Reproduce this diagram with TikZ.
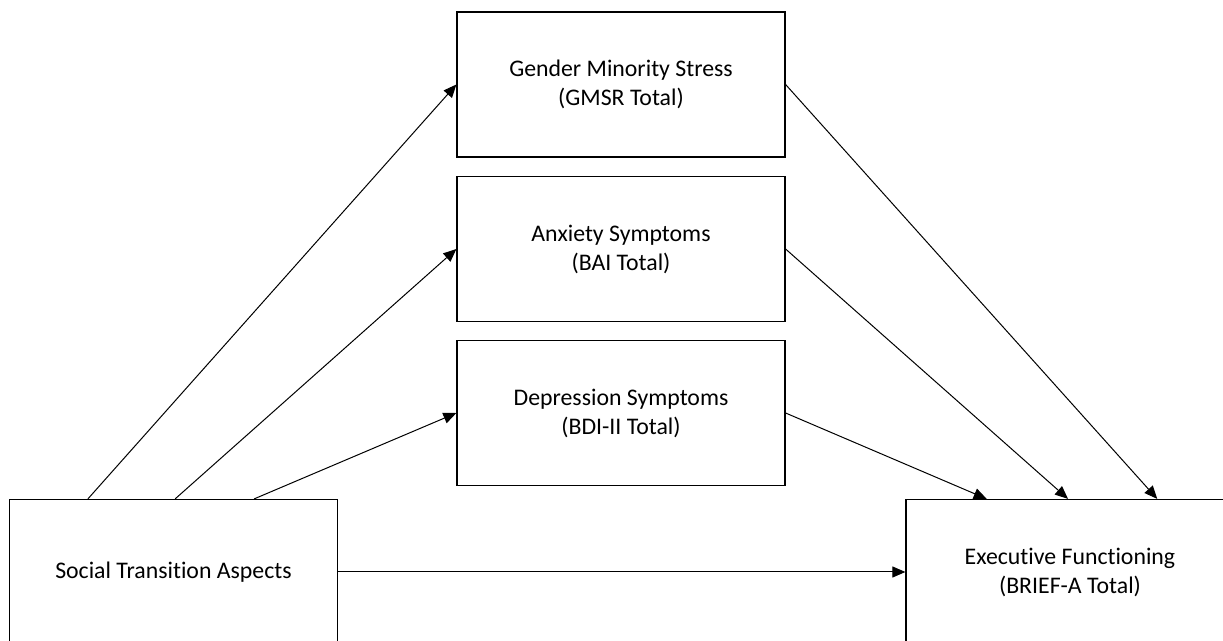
\documentclass[tikz,border=0pt]{standalone}
\usepackage{fontspec}
\setmainfont{Carlito}[Ligatures=NoCommon]
\usepackage{tikz}
\usetikzlibrary{arrows.meta, positioning, calc}

\begin{document}
\begin{tikzpicture}[
  x=0.5pt, y=-0.5pt,
  vbox/.style={draw, line width=0.6pt, minimum width=164pt, minimum height=72.5pt, align=center, font=\fontsize{11.9}{14.5}\selectfont, inner sep=0pt},
  path/.style={-{Triangle[length=6.5pt, width=5.5pt]}, line width=0.5pt}
]
  \useasboundingbox (0, 0) rectangle (1223, 641);
  \clip (0, 0) rectangle (1223, 641);
  \fill[white] (0, 0) rectangle (1223, 641);
  % mediators
  \node[vbox] (gmsr) at (621, 84.5) {Gender Minority Stress\\(GMSR Total)};
  \node[vbox] (bai) at (621, 249) {Anxiety Symptoms\\(BAI Total)};
  \node[vbox] (bdi) at (621, 413) {Depression Symptoms\\(BDI-II Total)};
  % predictor and outcome
  \node[vbox] (social) at (173.5, 572) {Social Transition Aspects};
  \node[vbox] (exec) at (1070, 572) {Executive Functioning\\(BRIEF-A Total)};
  % paths a
  \draw[path] ($(social.north west)!0.24!(social.north east)$) -- (gmsr.west);
  \draw[path] ($(social.north west)!0.505!(social.north east)$) -- (bai.west);
  \draw[path] ($(social.north west)!0.745!(social.north east)$) -- (bdi.west);
  % paths b
  \draw[path] (gmsr.east) -- ($(exec.north west)!0.765!(exec.north east)$);
  \draw[path] (bai.east) -- ($(exec.north west)!0.494!(exec.north east)$);
  \draw[path] (bdi.east) -- ($(exec.north west)!0.247!(exec.north east)$);
  % path c
  \draw[path] (social.east) -- (exec.west);
\end{tikzpicture}
\end{document}
